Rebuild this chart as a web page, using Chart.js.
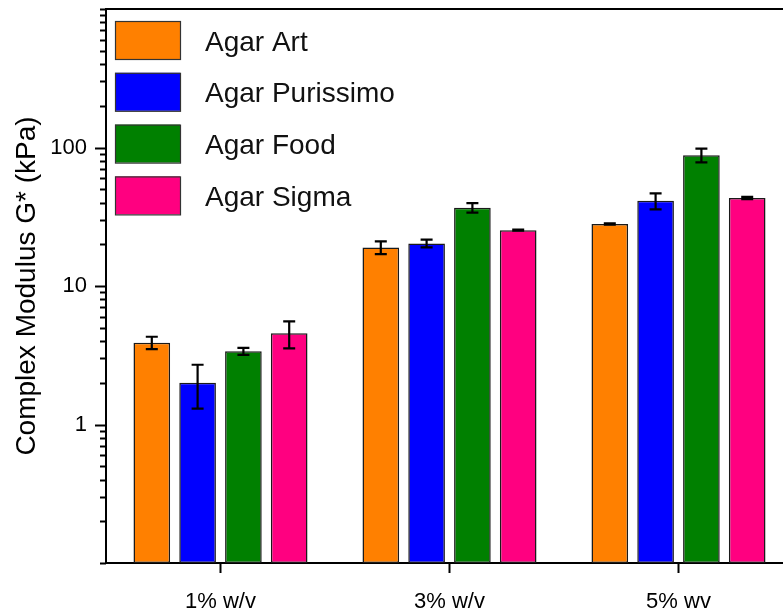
<!DOCTYPE html>
<html>
<head>
<meta charset="utf-8">
<title>Complex Modulus of Agar Gels</title>
<script src="https://cdn.jsdelivr.net/npm/chart.js@4.4.0/dist/chart.umd.min.js"></script>
<style>
  html, body { margin: 0; padding: 0; background: #ffffff; overflow: hidden; }
  #wrap { position: relative; width: 800px; height: 630px; }
</style>
</head>
<body>
<div id="wrap"><canvas id="chart"></canvas></div>
<script>
// Concentrations on the x axis
const categories = ['1% w/v', '3% w/v', '5% wv'];

// Agar types (legend order)
const seriesNames = ['Agar Art', 'Agar Purissimo', 'Agar Food', 'Agar Sigma'];
const seriesColors = ['#FF8000', '#0000FF', '#008000', '#FF0080'];

// Mean complex modulus G* (kPa) and standard deviation per concentration
const agarArt          = [3.9, 19.0, 28.0];
const agarArtErr       = [0.4, 2.0, 0.3];
const agarPurissimo    = [2.0, 20.3, 41.2];
const agarPurissimoErr = [0.7, 1.3, 5.5];
const agarFood         = [3.38, 36.8, 88.0];
const agarFoodErr      = [0.2, 2.9, 10.0];
const agarSigma        = [4.55, 25.3, 43.2];
const agarSigmaErr     = [1.0, 0.2, 0.8];

// Log axis: labelled decades and the minor multipliers between them
const majorTicks = [1, 10, 100];
const decadeExponents = [-1, 0, 1, 2];
const minorMultipliers = [1, 2, 3, 4, 5, 6, 7, 8, 9];
const yMin = 0.1;
const yMax = 1000;

const seriesValues = [agarArt, agarPurissimo, agarFood, agarSigma];
const seriesErrors = [agarArtErr, agarPurissimoErr, agarFoodErr, agarSigmaErr];

const FONT = "'Liberation Sans', Arial, Helvetica, sans-serif";
Chart.defaults.font.family = FONT;
Chart.defaults.color = '#000';

// All tick positions on the log axis
const yTickValues = [];
decadeExponents.forEach(e => {
  minorMultipliers.forEach(m => {
    yTickValues.push(Number((m * Math.pow(10, e)).toPrecision(3)));
  });
});
yTickValues.push(yMax);

const isMajor = v => majorTicks.some(t => Math.abs(t - v) < 1e-9);

// Error bars: vertical whisker with caps at mean ± sd
const errorBarPlugin = {
  id: 'errorBars',
  afterDatasetsDraw(chart) {
    const { ctx } = chart;
    const yScale = chart.scales.y;
    ctx.save();
    ctx.strokeStyle = '#000';
    ctx.lineWidth = 2.2;
    chart.data.datasets.forEach((ds, di) => {
      const meta = chart.getDatasetMeta(di);
      meta.data.forEach((bar, i) => {
        const v = ds.data[i];
        const e = ds.errors[i];
        const yTop = yScale.getPixelForValue(v + e);
        const yBot = yScale.getPixelForValue(Math.max(v - e, yMin));
        const x = bar.x;
        const cap = 6;
        ctx.beginPath();
        ctx.moveTo(x, yTop);
        ctx.lineTo(x, yBot);
        ctx.moveTo(x - cap, yTop);
        ctx.lineTo(x + cap, yTop);
        ctx.moveTo(x - cap, yBot);
        ctx.lineTo(x + cap, yBot);
        ctx.stroke();
      });
    });
    ctx.restore();
  }
};

// Frame, log-axis tick marks of two lengths, and the boxed legend
const decorPlugin = {
  id: 'decor',
  afterDraw(chart) {
    const { ctx, chartArea } = chart;
    const yScale = chart.scales.y;
    ctx.save();

    // top and right edges of the frame
    ctx.strokeStyle = '#000';
    ctx.lineWidth = 2;
    ctx.beginPath();
    ctx.moveTo(chartArea.left, chartArea.top);
    ctx.lineTo(chartArea.right, chartArea.top);
    ctx.lineTo(chartArea.right, chartArea.bottom);
    ctx.stroke();

    // y tick marks (outward), long for decades, short for minors
    yScale.ticks.forEach(t => {
      const py = Math.round(yScale.getPixelForValue(t.value)) + 0.5;
      const len = isMajor(t.value) ? 11 : 6;
      ctx.beginPath();
      ctx.moveTo(chartArea.left - len, py);
      ctx.lineTo(chartArea.left, py);
      ctx.stroke();
    });

    // legend inside the plot, top-left
    const boxX = 115, boxW = 65, boxH = 38, firstTop = 21, pitch = 51.8;
    const textX = 205;
    ctx.font = '28px ' + FONT;
    ctx.textAlign = 'left';
    ctx.textBaseline = 'alphabetic';
    chart.data.datasets.forEach((ds, i) => {
      const top = firstTop + i * pitch;
      ctx.fillStyle = ds.backgroundColor;
      ctx.fillRect(boxX, top, boxW, boxH);
      ctx.strokeStyle = '#333';
      ctx.lineWidth = 1.2;
      ctx.strokeRect(boxX + 0.5, top + 0.5, boxW, boxH);
      ctx.fillStyle = '#111';
      ctx.fillText(ds.label, textX, top + boxH / 2 + 10.5);
    });

    ctx.restore();
  }
};

const datasets = seriesNames.map((name, i) => ({
  label: name,
  data: seriesValues[i],
  errors: seriesErrors[i],
  backgroundColor: seriesColors[i],
  borderColor: '#1a1a1a',
  borderWidth: 1.5,
  borderSkipped: false,
  barPercentage: 0.8,
  categoryPercentage: 0.8
}));

new Chart(document.getElementById('chart'), {
  type: 'bar',
  data: { labels: categories, datasets },
  options: {
    responsive: true,
    maintainAspectRatio: false,
    animation: false,
    layout: { padding: { left: 0, right: 7, top: 9, bottom: 0 } },
    plugins: {
      legend: { display: false },
      tooltip: { enabled: false }
    },
    scales: {
      x: {
        type: 'category',
        offset: true,
        grid: {
          offset: false,
          drawOnChartArea: false,
          tickLength: 10,
          tickWidth: 2,
          tickColor: '#000'
        },
        border: { display: true, color: '#000', width: 2 },
        ticks: {
          color: '#000',
          font: { size: 22 },
          padding: 16,
          maxRotation: 0,
          autoSkip: false
        },
        afterFit(scale) {
          scale.height = 67;
          scale.paddingLeft = 0;
          scale.paddingRight = 0;
        }
      },
      y: {
        type: 'logarithmic',
        min: yMin,
        max: yMax,
        grid: {
          drawOnChartArea: false,
          tickLength: 11,
          tickColor: 'rgba(0,0,0,0)'
        },
        border: { display: true, color: '#000', width: 2 },
        ticks: {
          color: '#000',
          font: { size: 22 },
          padding: 8,
          autoSkip: false,
          callback: value => (isMajor(value) ? String(value) : '')
        },
        afterBuildTicks(scale) {
          scale.ticks = yTickValues.map(v => ({ value: v, major: isMajor(v) }));
        },
        title: {
          display: true,
          text: 'Complex Modulus G* (kPa)',
          color: '#000',
          font: { size: 28 },
          padding: { top: 10, bottom: 0 }
        },
        afterFit(scale) {
          scale.width = 106;
          scale.paddingTop = 0;
          scale.paddingBottom = 0;
        }
      }
    }
  },
  plugins: [errorBarPlugin, decorPlugin]
});
</script>
</body>
</html>
